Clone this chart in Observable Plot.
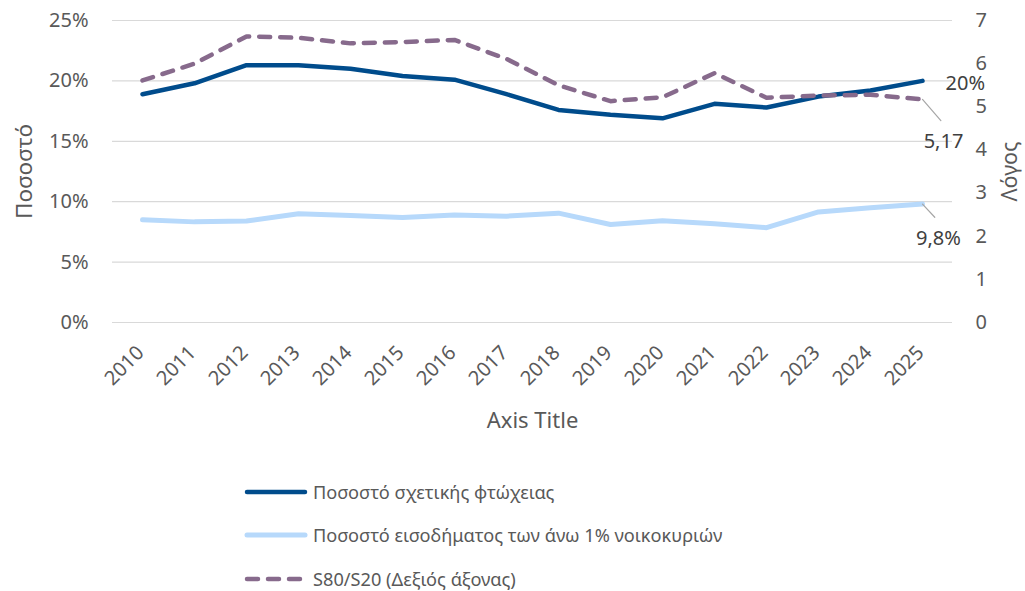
<!DOCTYPE html>
<html>
<head>
<meta charset="utf-8">
<script src="https://cdn.jsdelivr.net/npm/d3@7"></script>
<script src="https://cdn.jsdelivr.net/npm/@observablehq/plot@0.6"></script>
<style>
  html, body { margin: 0; padding: 0; background: #fff; }
  body { width: 1025px; height: 591px; overflow: hidden; font-family: "Noto Sans", sans-serif; }
  #legend { padding-top: 15px; }
  .row { height: 43.5px; display: flex; align-items: center; }
  .row svg { margin-left: 243px; margin-right: 4px; }
  .row span { font-size: 18.2px; color: #595959; }
</style>
</head>
<body>
<div id="chart"></div>
<div id="legend"></div>
<script>
const years = [2010, 2011, 2012, 2013, 2014, 2015, 2016, 2017, 2018, 2019, 2020, 2021, 2022, 2023, 2024, 2025];
const poverty = [18.9, 19.8, 21.3, 21.3, 21.0, 20.4, 20.1, 18.9, 17.6, 17.2, 16.9, 18.1, 17.8, 18.7, 19.2, 20.0];
const top1 = [8.5, 8.33, 8.4, 9.0, 8.86, 8.7, 8.9, 8.8, 9.05, 8.11, 8.42, 8.17, 7.85, 9.15, 9.5, 9.8];
const s80s20 = [5.61, 6.0, 6.63, 6.6, 6.47, 6.5, 6.55, 6.11, 5.5, 5.13, 5.22, 5.78, 5.21, 5.26, 5.28, 5.17];
const leftTicks = [0, 5, 10, 15, 20, 25];
const rightTicks = [0, 1, 2, 3, 4, 5, 6, 7];
const seriesNames = ["Ποσοστό σχετικής φτώχειας", "Ποσοστό εισοδήματος των άνω 1% νοικοκυριών", "S80/S20 (Δεξιός άξονας)"];
const colors = ["#004C8C", "#B7D9FB", "#876A8C"];

const RMAX = 7, LMAX = 25;
const toLeft = v => v * LMAX / RMAX;

const povData = years.map((y, i) => ({year: y, v: poverty[i]}));
const topData = years.map((y, i) => ({year: y, v: top1[i]}));
const ratioData = years.map((y, i) => ({year: y, v: toLeft(s80s20[i])}));
const last = years.length - 1;

const noHead = {draw(context, l) { context.moveTo(0, 0); context.lineTo(0, -l); }};

const chart = Plot.plot({
  width: 1025,
  height: 455,
  marginLeft: 112,
  marginRight: 73,
  marginTop: 20,
  marginBottom: 133,
  style: {fontFamily: "Noto Sans", fontSize: "20px", color: "#595959", background: "#fff"},
  x: {type: "point", domain: years, axis: null},
  y: {domain: [0, LMAX], axis: null},
  marks: [
    Plot.gridY(leftTicks, {stroke: "#d9d9d9", strokeOpacity: 1, strokeWidth: 1.2}),
    Plot.axisY(leftTicks, {anchor: "left", tickSize: 0, tickPadding: 24, tickFormat: d => d + "%", label: null, fill: "#595959", fontSize: 20}),
    Plot.axisY(rightTicks.map(toLeft), {anchor: "right", tickSize: 0, tickPadding: 23, tickFormat: d => String(Math.round(d * RMAX / LMAX)), label: null, fill: "#595959", fontSize: 20}),
    Plot.text(years, {x: d => d, text: d => String(d), frameAnchor: "bottom", dx: -2, dy: 27, rotate: -45, textAnchor: "end", lineAnchor: "middle", fill: "#595959", fontSize: 20}),
    Plot.text(["Ποσοστό"], {frameAnchor: "left", dx: -88, rotate: -90, textAnchor: "middle", lineAnchor: "middle", fill: "#595959", fontSize: 22.5}),
    Plot.text(["Λόγος"], {frameAnchor: "right", dx: 58, rotate: -90, textAnchor: "middle", lineAnchor: "middle", fill: "#595959", fontSize: 21.5}),
    Plot.text(["Axis Title"], {frameAnchor: "bottom", dy: 98, textAnchor: "middle", fill: "#595959", fontSize: 22, lineAnchor: "middle"}),
    Plot.line(topData, {x: "year", y: "v", stroke: colors[1], strokeWidth: 5, strokeLinejoin: "round", strokeLinecap: "round"}),
    Plot.line(povData, {x: "year", y: "v", stroke: colors[0], strokeWidth: 4.5, strokeLinejoin: "round", strokeLinecap: "round"}),
    Plot.line(ratioData, {x: "year", y: "v", stroke: colors[2], strokeWidth: 4.5, strokeDasharray: "11,10", strokeLinejoin: "round", strokeLinecap: "round"}),
    Plot.vector([ratioData[last]], {x: "year", y: "v", length: 28, rotate: 139, anchor: "start", shape: noHead, stroke: "#a6a6a6", strokeWidth: 1.2}),
    Plot.vector([topData[last]], {x: "year", y: "v", length: 18, rotate: 137, anchor: "start", shape: noHead, stroke: "#a6a6a6", strokeWidth: 1.2}),
    Plot.text([povData[last]], {x: "year", y: "v", text: d => "20%", dx: 23, dy: 3, textAnchor: "start", fill: "#404040", fontSize: 20}),
    Plot.text([ratioData[last]], {x: "year", y: "v", text: () => String(s80s20[last]).replace(".", ","), dx: 21, dy: 42, textAnchor: "middle", fill: "#404040", fontSize: 20}),
    Plot.text([topData[last]], {x: "year", y: "v", text: d => String(d.v).replace(".", ",") + "%", dx: 16, dy: 34, textAnchor: "middle", fill: "#404040", fontSize: 20})
  ]
});
document.getElementById("chart").appendChild(chart);

const legend = document.getElementById("legend");
const dashes = [null, null, "11,10"];
seriesNames.forEach((name, i) => {
  const row = document.createElement("div");
  row.className = "row";
  const sw = d3.create("svg").attr("width", 66).attr("height", 12);
  sw.append("line").attr("x1", 4).attr("x2", dashes[i] ? 64 : 62).attr("y1", 6).attr("y2", 6)
    .attr("stroke", colors[i]).attr("stroke-width", i === 1 ? 5 : 4.5).attr("stroke-linecap", "round")
    .attr("stroke-dasharray", dashes[i]);
  row.appendChild(sw.node());
  const t = document.createElement("span");
  t.textContent = name;
  row.appendChild(t);
  legend.appendChild(row);
});
</script>
</body>
</html>
